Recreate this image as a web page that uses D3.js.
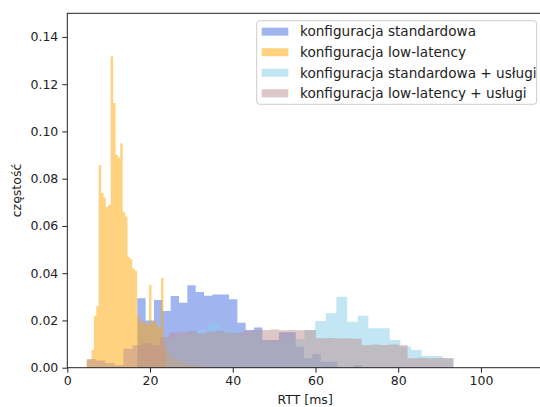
<!DOCTYPE html>
<html>
<head>
<meta charset="utf-8">
<script src="https://cdn.jsdelivr.net/npm/d3@7"></script>
<style>
  body { margin: 0; background: #fff; }
  svg { display: block; font-family: "DejaVu Sans", sans-serif; }
</style>
</head>
<body>
<svg id="chart" width="540" height="407"></svg>
<script>
// legend labels, in plotting order
const seriesLabels = [
    "konfiguracja standardowa",
    "konfiguracja low-latency",
    "konfiguracja standardowa + usługi",
    "konfiguracja low-latency + usługi"
];
const seriesColors = ["royalblue", "orange", "skyblue", "rosybrown"];

// histogram bins: first bin edge [ms], bin width [ms], density per bin
const stdStart = 16.93;
const stdWidth = 2.015;
const stdValues = [0.0294, 0.020, 0.0287, 0.024, 0.0303, 0.0275, 0.0349, 0.032, 0.0305, 0.031,
    0.031, 0.029, 0.019, 0.016, 0.017, 0.0117, 0.0117, 0.015, 0.015, 0.0089,
    0.004, 0.0058, 0.0025, 0.0025, 0, 0, 0.001];

const llStart = 4.69;
const llWidth = 0.58;
const llValues = [0.003, 0.0035, 0.0075, 0.022, 0.026, 0.0858, 0.074, 0.072, 0.068, 0.069,
    0.1317, 0.112, 0.090, 0.089, 0.095, 0.066, 0.064, 0.047, 0.046, 0.042,
    0.041, 0.022, 0.019, 0.020, 0.019, 0.018, 0.035, 0.019, 0.020, 0.018,
    0.017, 0.038, 0.009, 0.007, 0.006, 0.005, 0.004, 0.004, 0.003, 0.003,
    0.002, 0.002, 0.002, 0.001, 0.001, 0.001, 0.001, 0, 0, 0.001];

const stdSvcStart = 23.9;
const stdSvcWidth = 2.573;
const stdSvcValues = [0.012, 0.014, 0.015, 0.016, 0.019, 0.016, 0.015, 0.014, 0.015, 0.011,
    0.011, 0.013, 0.012, 0.016, 0.0198, 0.023, 0.030, 0.0195, 0.022, 0.0167,
    0.0167, 0.0117, 0.009, 0.0075, 0.005, 0.005, 0.004];

const llSvcStart = 4.7;
const llSvcWidth = 2.216;
const llSvcValues = [0.0037, 0.003, 0.002, 0.001, 0.008, 0.0095, 0.0105, 0.0095, 0.013, 0.0148,
    0.015, 0.0155, 0.0146, 0.0152, 0.0156, 0.015, 0.0148, 0.0154, 0.0158, 0.016,
    0.0162, 0.0158, 0.016, 0.0158, 0.016, 0.0125, 0.0126, 0.0124, 0.0125, 0.0123,
    0.0095, 0.0098, 0.0096, 0.0098, 0.0095, 0.004, 0.0042, 0.004, 0.0041, 0.004];

const xTicks = [0, 20, 40, 60, 80, 100];
const yTicks = [0, 0.02, 0.04, 0.06, 0.08, 0.10, 0.12, 0.14];

// axes box
const axLeft = 67.3, axRight = 543, axTop = 13.3, axBottom = 367.7;

let svg = d3.select("#chart");

let x = d3.scaleLinear().domain([0, 115]).range([axLeft, axRight]);
let y = d3.scaleLinear().domain([0, 0.15]).range([axBottom, axTop]);

let series = [
    { start: stdStart, width: stdWidth, values: stdValues },
    { start: llStart, width: llWidth, values: llValues },
    { start: stdSvcStart, width: stdSvcWidth, values: stdSvcValues },
    { start: llSvcStart, width: llSvcWidth, values: llSvcValues }
];

// step area for one histogram
let area = d3.area()
    .curve(d3.curveStepAfter)
    .x(d => x(d.x))
    .y0(y(0))
    .y1(d => y(d.h));

let plot = svg.append("g");

series.forEach((s, i) => {
    let pts = s.values.map((v, k) => ({ x: s.start + k * s.width, h: v }));
    pts.push({ x: s.start + s.values.length * s.width, h: s.values[s.values.length - 1] });
    plot.append("path")
        .datum(pts)
        .attr("d", area)
        .attr("fill", seriesColors[i])
        .attr("fill-opacity", 0.5);
});

// axes
let xAxis = svg.append("g")
    .attr("transform", `translate(0,${axBottom})`)
    .call(d3.axisBottom(x).tickValues(xTicks).tickFormat(d => d).tickSize(5).tickSizeOuter(0).tickPadding(3));
let yAxis = svg.append("g")
    .attr("transform", `translate(${axLeft},0)`)
    .call(d3.axisLeft(y).tickValues(yTicks).tickFormat(d3.format(".2f")).tickSize(5).tickSizeOuter(0).tickPadding(4));

[xAxis, yAxis].forEach(a => {
    a.select(".domain").remove();
    a.selectAll("text").attr("font-size", 12.5).attr("font-family", "DejaVu Sans").attr("fill", "#222");
    a.selectAll("line").attr("stroke", "#222");
});

// spines
svg.append("rect")
    .attr("x", axLeft).attr("y", axTop)
    .attr("width", axRight - axLeft).attr("height", axBottom - axTop)
    .attr("fill", "none").attr("stroke", "#222").attr("stroke-width", 1);

// axis labels
svg.append("text")
    .attr("x", (axLeft + axRight) / 2).attr("y", 404)
    .attr("text-anchor", "middle").attr("font-size", 12.5).attr("fill", "#222")
    .text("RTT [ms]");
svg.append("text")
    .attr("transform", `translate(21,${(axTop + axBottom) / 2}) rotate(-90)`)
    .attr("text-anchor", "middle").attr("font-size", 12.5).attr("fill", "#222")
    .text("częstość");

// legend
let legend = svg.append("g");
legend.append("rect")
    .attr("x", 256.7).attr("y", 20.7).attr("width", 280).attr("height", 83.6)
    .attr("rx", 3).attr("fill", "white").attr("fill-opacity", 0.8)
    .attr("stroke", "#ccc").attr("stroke-width", 1);

let rowY = d3.scaleLinear().domain([0, 3]).range([31.7, 93.3]);
seriesLabels.forEach((label, i) => {
    legend.append("rect")
        .attr("x", 261.7).attr("y", rowY(i) - 4).attr("width", 26.6).attr("height", 8)
        .attr("fill", seriesColors[i]).attr("fill-opacity", 0.5);
    legend.append("text")
        .attr("x", 300).attr("y", rowY(i)).attr("dy", "0.35em")
        .attr("font-size", 13.6).attr("fill", "#222")
        .text(label);
});
</script>
</body>
</html>
